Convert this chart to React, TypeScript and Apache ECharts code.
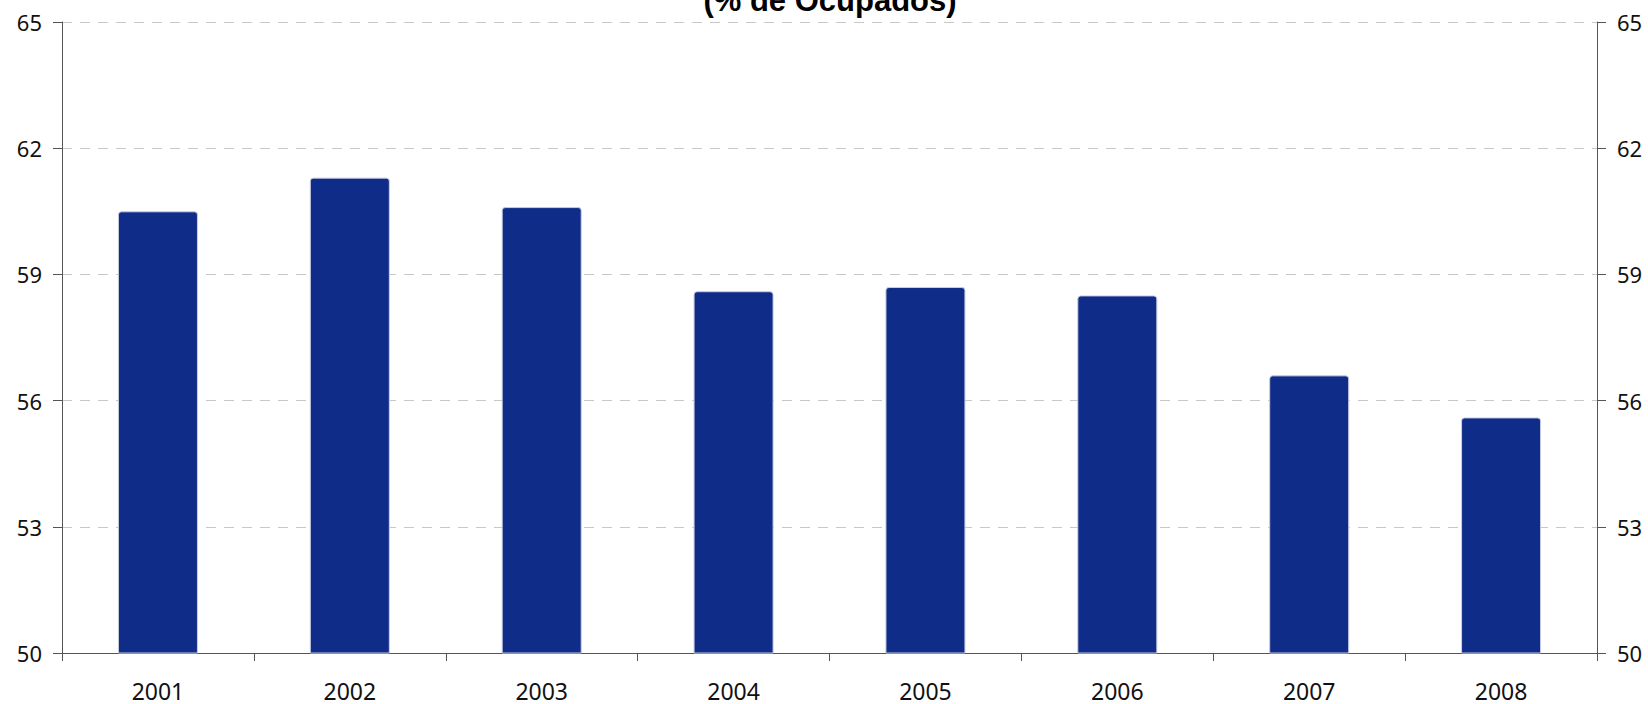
import React, { useEffect, useRef } from "react";
import * as echarts from "echarts";

const categories = ["2001", "2002", "2003", "2004", "2005", "2006", "2007", "2008"];
const values = [60.5, 61.3, 60.6, 58.6, 58.7, 58.5, 56.6, 55.6];
const titleText = "(% de Ocupados)";

export default function App() {
  const ref = useRef<HTMLDivElement>(null);
  useEffect(() => {
    const chart = echarts.init(ref.current!, null, { renderer: "svg" });
    const font = "'Noto Sans', sans-serif";
    const yAxisCommon = {
      type: "value" as const,
      min: 50,
      max: 65,
      interval: 3,
      axisLine: { show: true, lineStyle: { color: "#555", width: 1 } },
      axisTick: { show: true, length: 9, lineStyle: { color: "#555" } },
      axisLabel: { color: "#111", fontSize: 22, fontFamily: font, margin: 20 },
    };
    chart.setOption({
      animation: false,
      backgroundColor: "#fff",
      graphic: [
        {
          type: "text",
          x: 830,
          y: 0,
          style: {
            text: titleText,
            font: "bold 31px 'Liberation Sans', Arial, sans-serif",
            fill: "#000",
            align: "center",
            verticalAlign: "middle",
          },
        },
      ],
      grid: { left: 62, right: 51, top: 22, bottom: 51, containLabel: false },
      xAxis: {
        type: "category",
        data: categories,
        axisLine: { show: true, lineStyle: { color: "#555", width: 1 } },
        axisTick: { show: true, length: 8, lineStyle: { color: "#555" } },
        axisLabel: { color: "#111", fontSize: 23, lineHeight: 20, fontFamily: font, margin: 28 },
        splitLine: { show: false },
      },
      yAxis: [
        {
          ...yAxisCommon,
          position: "left",
          splitLine: { show: true, lineStyle: { color: "#c8c8c8", type: [10, 8], width: 1 } },
        },
        {
          ...yAxisCommon,
          position: "right",
          splitLine: { show: false },
        },
      ],
      series: [
        {
          type: "bar",
          data: values,
          barWidth: 80,
          itemStyle: {
            color: "#0f2c88",
            borderColor: "#c9cde0",
            borderWidth: 1,
            borderRadius: [3, 3, 0, 0],
          },
        },
      ],
    });
    return () => chart.dispose();
  }, []);
  return <div ref={ref} style={{ width: 1648, height: 704, position: "absolute", left: 0, top: 0 }} />;
}
